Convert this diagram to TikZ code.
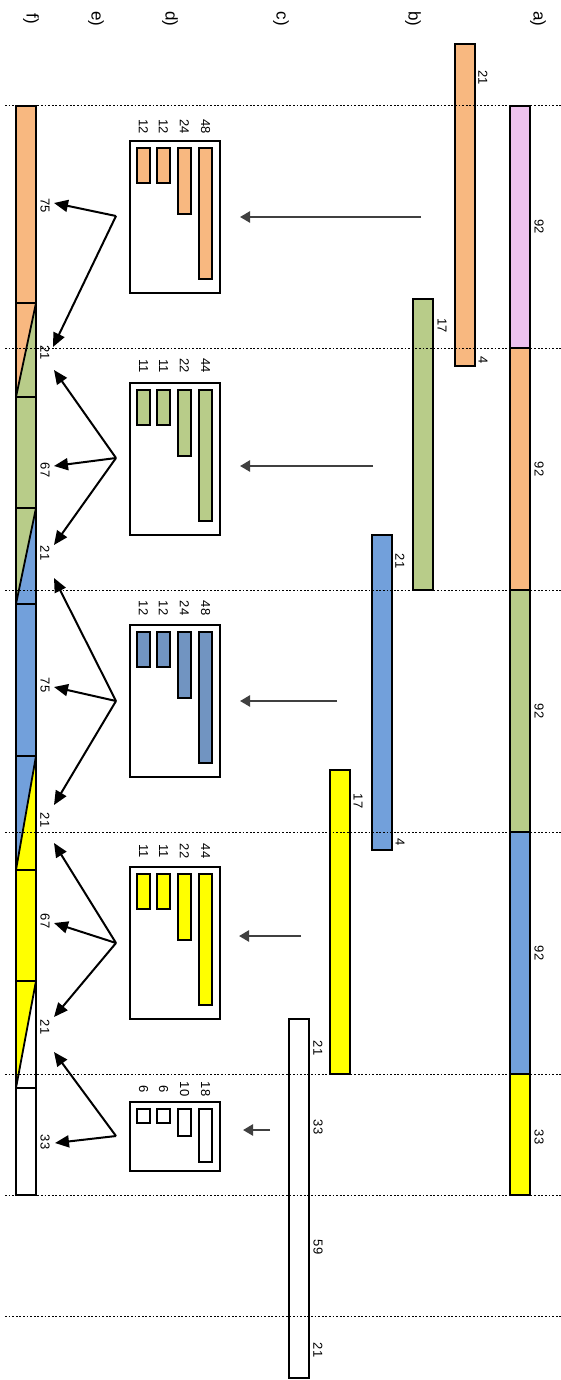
\documentclass[tikz,border=0pt]{standalone}
\usepackage{fontspec}
\setmainfont{Liberation Sans}
\usetikzlibrary{arrows.meta}
\definecolor{cpink}{RGB}{238,194,238}
\definecolor{corange}{RGB}{248,184,128}
\definecolor{cgreen}{RGB}{184,204,137}
\definecolor{cblue}{RGB}{114,160,219}
\definecolor{cbluedark}{RGB}{113,148,193}
\definecolor{cyellow}{RGB}{255,255,0}
\definecolor{carrow}{RGB}{64,64,64}
\begin{document}
\begin{tikzpicture}[x=0.5pt,y=-0.5pt,
 bar/.style={draw=black,line width=1.25pt},
 guide/.style={draw=black,line width=0.5pt,dash pattern=on 0.9pt off 0.9pt},
 num/.style={font=\fontsize{6.5}{6.5}\selectfont,rotate=-90,inner sep=0pt},
 rowlab/.style={font=\fontsize{8.5}{8.5}\selectfont,rotate=-90,inner sep=0pt},
 conv/.style={draw=carrow,line width=1.2pt,-{Triangle[length=5pt,width=5.5pt]}},
 split/.style={draw=black,line width=1pt,-{Triangle[length=7pt,width=6pt]}},
 frame/.style={draw=black,line width=1.25pt,fill=white},
 diag/.style={draw=black,line width=0.9pt}]

\useasboundingbox (0,0) rectangle (561,1380);
\fill[white] (0,0) rectangle (561,1380);

% row labels
\node[rowlab] (ra) at (538,19) {a)};
\node[rowlab] (rb) at (413,19) {b)};
\node[rowlab] (rc) at (281,19) {c)};
\node[rowlab] (rd) at (170,19) {d)};
\node[rowlab] (re) at (96,19) {e)};
\node[rowlab] (rf) at (31,19) {f)};

% ---------- a) ----------
\draw[bar,fill=cpink]   (510,106) rectangle (530,348);
\draw[bar,fill=corange] (510,348) rectangle (530,590);
\draw[bar,fill=cgreen]  (510,590) rectangle (530,832);
\draw[bar,fill=cblue]   (510,832) rectangle (530,1074);
\draw[bar,fill=cyellow] (510,1074) rectangle (530,1195);
\node[num] (a1) at (539,227) {92};
\node[num] (a2) at (539,469) {92};
\node[num] (a3) at (539,711) {92};
\node[num] (a4) at (539,953) {92};
\node[num] (a5) at (539,1137) {33};

% ---------- b) ----------
\draw[bar,fill=corange] (455,44) rectangle (475,366);
\draw[bar,fill=cgreen]  (413,299) rectangle (433,590);
\draw[bar,fill=cblue]   (372,535) rectangle (392,850);
\draw[bar,fill=cyellow] (330,770) rectangle (350,1074);
\draw[bar,fill=white]   (289,1019) rectangle (309,1378);
\node[num] (b1) at (483,78) {21};
\node[num] (b2) at (483,360) {4};
\node[num] (b3) at (442,326) {17};
\node[num] (b4) at (400,561) {21};
\node[num] (b5) at (400,842) {4};
\node[num] (b6) at (358,801) {17};
\node[num] (b7) at (318,1048) {21};
\node[num] (b8) at (318,1127) {33};
\node[num] (b9) at (318,1247) {59};
\node[num] (b10) at (318,1350) {21};

% ---------- c) arrows ----------
\coordinate (c1s) at (421,217); \coordinate (c1e) at (240,217);
\coordinate (c2s) at (373,466); \coordinate (c2e) at (240,466);
\coordinate (c3s) at (337,701); \coordinate (c3e) at (240,701);
\coordinate (c4s) at (301,936); \coordinate (c4e) at (239,936);
\coordinate (c5s) at (270,1130); \coordinate (c5e) at (243,1130);
\draw[conv] (c1s) -- (c1e);
\draw[conv] (c2s) -- (c2e);
\draw[conv] (c3s) -- (c3e);
\draw[conv] (c4s) -- (c4e);
\draw[conv] (c5s) -- (c5e);

% ---------- d) boxes ----------
% box 1
\draw[frame] (130,141) rectangle (220,293);
\draw[bar,fill=corange] (137,148) rectangle (150,183);
\draw[bar,fill=corange] (157,148) rectangle (170,183);
\draw[bar,fill=corange] (178,148) rectangle (191,214);
\draw[bar,fill=corange] (199,148) rectangle (212,279);
\node[num] (d11) at (143.5,127) {12};
\node[num] (d12) at (163.5,127) {12};
\node[num] (d13) at (184.5,127) {24};
\node[num] (d14) at (205.5,127) {48};
% box 2
\draw[frame] (130,383) rectangle (220,535);
\draw[bar,fill=cgreen] (137,390) rectangle (150,425);
\draw[bar,fill=cgreen] (157,390) rectangle (170,425);
\draw[bar,fill=cgreen] (178,390) rectangle (191,456);
\draw[bar,fill=cgreen] (199,390) rectangle (212,521);
\node[num] (d21) at (143.5,366) {11};
\node[num] (d22) at (163.5,366) {11};
\node[num] (d23) at (184.5,366) {22};
\node[num] (d24) at (205.5,366) {44};
% box 3
\draw[frame] (130,625) rectangle (220,777);
\draw[bar,fill=cbluedark] (137,632) rectangle (150,667);
\draw[bar,fill=cbluedark] (157,632) rectangle (170,667);
\draw[bar,fill=cbluedark] (178,632) rectangle (191,698);
\draw[bar,fill=cbluedark] (199,632) rectangle (212,763);
\node[num] (d31) at (143.5,608) {12};
\node[num] (d32) at (163.5,608) {12};
\node[num] (d33) at (184.5,608) {24};
\node[num] (d34) at (205.5,608) {48};
% box 4
\draw[frame] (130,867) rectangle (220,1019);
\draw[bar,fill=cyellow] (137,874) rectangle (150,909);
\draw[bar,fill=cyellow] (157,874) rectangle (170,909);
\draw[bar,fill=cyellow] (178,874) rectangle (191,940);
\draw[bar,fill=cyellow] (199,874) rectangle (212,1005);
\node[num] (d41) at (143.5,851) {11};
\node[num] (d42) at (163.5,851) {11};
\node[num] (d43) at (184.5,851) {22};
\node[num] (d44) at (205.5,851) {44};
% box 5
\draw[frame] (130,1102) rectangle (220,1171);
\draw[bar,fill=white] (137,1109) rectangle (150,1123);
\draw[bar,fill=white] (157,1109) rectangle (170,1123);
\draw[bar,fill=white] (178,1109) rectangle (191,1136);
\draw[bar,fill=white] (199,1109) rectangle (212,1162);
\node[num] (d51) at (143.5,1089) {6};
\node[num] (d52) at (163.5,1089) {6};
\node[num] (d53) at (184.5,1089) {10};
\node[num] (d54) at (205.5,1089) {18};

% ---------- f) bar ----------
\fill[corange] (16,106) rectangle (36,303);
\fill[corange] (16,303) -- (36,303) -- (16,397) -- cycle;
\fill[cgreen]  (36,303) -- (36,397) -- (16,397) -- cycle;
\fill[cgreen]  (16,397) rectangle (36,508);
\fill[cgreen]  (16,508) -- (36,508) -- (16,604) -- cycle;
\fill[cblue]   (36,508) -- (36,604) -- (16,604) -- cycle;
\fill[cblue]   (16,604) rectangle (36,756);
\fill[cblue]   (16,756) -- (36,756) -- (16,870) -- cycle;
\fill[cyellow] (36,756) -- (36,870) -- (16,870) -- cycle;
\fill[cyellow] (16,870) rectangle (36,981);
\fill[cyellow] (16,981) -- (36,981) -- (16,1088) -- cycle;
\fill[white]   (36,981) -- (36,1088) -- (16,1088) -- cycle;
\fill[white]   (16,1088) rectangle (36,1195);
\draw[diag] (36,303) -- (16,397);
\draw[diag] (36,508) -- (16,604);
\draw[diag] (36,756) -- (16,870);
\draw[diag] (36,981) -- (16,1088);
\foreach \yy in {303,397,508,604,756,870,981,1088}
  \draw[bar] (16,\yy) -- (36,\yy);
\draw[bar] (16,106) rectangle (36,1195);
\node[num] (f1) at (45,206) {75};
\node[num] (f2) at (45,353) {21};
\node[num] (f3) at (45,470) {67};
\node[num] (f4) at (45,553) {21};
\node[num] (f5) at (45,685) {75};
\node[num] (f6) at (45,820) {21};
\node[num] (f7) at (45,921) {67};
\node[num] (f8) at (45,1027) {21};
\node[num] (f9) at (45,1142) {33};

% ---------- e) arrows ----------
\coordinate (g1) at (116,216);
\coordinate (g2) at (116,458);
\coordinate (g3) at (116,701);
\coordinate (g4) at (116,943);
\coordinate (g5) at (116,1136);
\coordinate (t11) at (54,203); \coordinate (t12) at (53,347);
\coordinate (t21) at (54,370); \coordinate (t22) at (54,466); \coordinate (t23) at (54,545);
\coordinate (t31) at (54,578); \coordinate (t32) at (54,687); \coordinate (t33) at (54,805);
\coordinate (t41) at (54,843); \coordinate (t42) at (54,923); \coordinate (t43) at (54,1017);
\coordinate (t51) at (54,1052); \coordinate (t52) at (55,1143);
\draw[split] (g1) -- (t11); \draw[split] (g1) -- (t12);
\draw[split] (g2) -- (t21); \draw[split] (g2) -- (t22); \draw[split] (g2) -- (t23);
\draw[split] (g3) -- (t31); \draw[split] (g3) -- (t32); \draw[split] (g3) -- (t33);
\draw[split] (g4) -- (t41); \draw[split] (g4) -- (t42); \draw[split] (g4) -- (t43);
\draw[split] (g5) -- (t51); \draw[split] (g5) -- (t52);

% ---------- guide lines ----------
\foreach \yy in {106,348,590,832,1074,1195,1316}
  \draw[guide] (5,\yy) -- (561,\yy);
\end{tikzpicture}
\end{document}
